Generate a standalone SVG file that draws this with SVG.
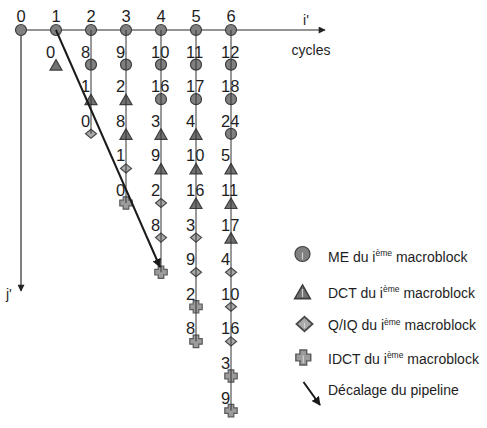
<svg xmlns="http://www.w3.org/2000/svg" width="487" height="428" viewBox="0 0 487 428">
<style>
text{font-family:"Liberation Sans",Arial,sans-serif;fill:#1e1e1e}
.num{font-size:16.5px}
.hd{font-size:16.5px;text-anchor:middle}
.lg{font-size:14px}
.sup{font-size:8.5px}
.me{fill:#808080;stroke:#3e3e3e;stroke-width:1.2}
.dct{fill:#727272;stroke:#3e3e3e;stroke-width:1.2}
.qiq{fill:#a9a9a9;stroke:#4a4a4a;stroke-width:1.2}
.idct{fill:#9c9c9c;stroke:#5a5a5a;stroke-width:1.2}
.col{stroke:#333;stroke-width:1;fill:none}
.mark{stroke:#d0d0d0;stroke-width:1.2;fill:none}
.axis{stroke:#2a2a2a;stroke-width:1.2;fill:none}
.pipe{stroke:#1a1a1a;stroke-width:2;fill:none}
</style>
<defs>
<circle id="me" r="5.5" class="me"/>
<polygon id="dct" points="0,-5 6,5.5 -6,5.5" class="dct"/>
<polygon id="qiq" points="0,-4.5 5.5,0 0,4.5 -5.5,0" class="qiq"/>
<path id="idct" d="M-2.8,-6.2h5.6v3.4h3.4v5.6h-3.4v3.4h-5.6v-3.4h-3.4v-5.6h3.4z" class="idct"/>
<marker id="ah" viewBox="0 0 10 10" refX="9" refY="5" markerWidth="8" markerHeight="7" markerUnits="userSpaceOnUse" orient="auto"><path d="M0,0L10,5L0,10z" fill="#222"/></marker>
<marker id="ah2" viewBox="0 0 10 10" refX="9" refY="5" markerWidth="4.5" markerHeight="4.5" orient="auto"><path d="M0,0L10,5L0,10z" fill="#1a1a1a"/></marker>
</defs>

<!-- axes -->
<g id="axes">
<line class="axis" x1="21" y1="30" x2="325" y2="30" marker-end="url(#ah)"/>
<line class="axis" x1="21" y1="30" x2="21" y2="291" marker-end="url(#ah)"/>
<text class="lg" x="306" y="25" text-anchor="middle">i'</text>
<text class="lg" x="311" y="55" text-anchor="middle">cycles</text>
<text class="lg" x="6" y="299">j'</text>
<text class="hd" x="21" y="21.5">0</text>
<text class="hd" x="56" y="21.5">1</text>
<text class="hd" x="91" y="21.5">2</text>
<text class="hd" x="126" y="21.5">3</text>
<text class="hd" x="161" y="21.5">4</text>
<text class="hd" x="196" y="21.5">5</text>
<text class="hd" x="231" y="21.5">6</text>
</g>

<!-- column 0 -->
<g id="c0r0"><use href="#me" x="21" y="30"/></g>
<!-- column 1 -->
<g id="c1r0"><use href="#me" x="56" y="30"/></g>
<g id="c1r1"><use href="#dct" x="56" y="64.6"/><text class="num" x="46" y="57.6">0</text></g>
<!-- column 2 -->
<g id="c2r0"><use href="#me" x="91" y="30"/></g>
<g id="c2r1"><use href="#me" x="91" y="64.6"/><text class="num" x="81" y="57.6">8</text></g>
<g id="c2r2"><use href="#dct" x="91" y="99.2"/><text class="num" x="81" y="92.2">1</text></g>
<g id="c2r3"><use href="#qiq" x="91" y="133.8"/><text class="num" x="81" y="126.8">0</text></g>
<!-- column 3 -->
<g id="c3r0"><use href="#me" x="126" y="30"/></g>
<g id="c3r1"><use href="#me" x="126" y="64.6"/><text class="num" x="116" y="57.6">9</text></g>
<g id="c3r2"><use href="#dct" x="126" y="99.2"/><text class="num" x="116" y="92.2">2</text></g>
<g id="c3r3"><use href="#dct" x="126" y="133.8"/><text class="num" x="116" y="126.8">8</text></g>
<g id="c3r4"><use href="#qiq" x="126" y="168.4"/><text class="num" x="116" y="161.4">1</text></g>
<g id="c3r5"><use href="#idct" x="126" y="203"/><text class="num" x="116" y="196">0</text></g>
<!-- column 4 -->
<g id="c4r0"><use href="#me" x="161" y="30"/></g>
<g id="c4r1"><use href="#me" x="161" y="64.6"/><text class="num" x="151" y="57.6">10</text></g>
<g id="c4r2"><use href="#me" x="161" y="99.2"/><text class="num" x="151" y="92.2">16</text></g>
<g id="c4r3"><use href="#dct" x="161" y="133.8"/><text class="num" x="151" y="126.8">3</text></g>
<g id="c4r4"><use href="#dct" x="161" y="168.4"/><text class="num" x="151" y="161.4">9</text></g>
<g id="c4r5"><use href="#qiq" x="161" y="203"/><text class="num" x="151" y="196">2</text></g>
<g id="c4r6"><use href="#qiq" x="161" y="237.6"/><text class="num" x="151" y="230.6">8</text></g>
<g id="c4r7"><use href="#idct" x="161" y="272.2"/></g>
<!-- column 5 -->
<g id="c5r0"><use href="#me" x="196" y="30"/></g>
<g id="c5r1"><use href="#me" x="196" y="64.6"/><text class="num" x="186" y="57.6">11</text></g>
<g id="c5r2"><use href="#me" x="196" y="99.2"/><text class="num" x="186" y="92.2">17</text></g>
<g id="c5r3"><use href="#dct" x="196" y="133.8"/><text class="num" x="186" y="126.8">4</text></g>
<g id="c5r4"><use href="#dct" x="196" y="168.4"/><text class="num" x="186" y="161.4">10</text></g>
<g id="c5r5"><use href="#dct" x="196" y="203"/><text class="num" x="186" y="196">16</text></g>
<g id="c5r6"><use href="#qiq" x="196" y="237.6"/><text class="num" x="186" y="230.6">3</text></g>
<g id="c5r7"><use href="#qiq" x="196" y="272.2"/><text class="num" x="186" y="265.2">9</text></g>
<g id="c5r8"><use href="#idct" x="196" y="306.8"/><text class="num" x="186" y="299.8">2</text></g>
<g id="c5r9"><use href="#idct" x="196" y="341.4"/><text class="num" x="186" y="334.4">8</text></g>
<!-- column 6 -->
<g id="c6r0"><use href="#me" x="231" y="30"/></g>
<g id="c6r1"><use href="#me" x="231" y="64.6"/><text class="num" x="221" y="57.6">12</text></g>
<g id="c6r2"><use href="#me" x="231" y="99.2"/><text class="num" x="221" y="92.2">18</text></g>
<g id="c6r3"><use href="#me" x="231" y="133.8"/><text class="num" x="221" y="126.8">24</text></g>
<g id="c6r4"><use href="#dct" x="231" y="168.4"/><text class="num" x="221" y="161.4">5</text></g>
<g id="c6r5"><use href="#dct" x="231" y="203"/><text class="num" x="221" y="196">11</text></g>
<g id="c6r6"><use href="#dct" x="231" y="237.6"/><text class="num" x="221" y="230.6">17</text></g>
<g id="c6r7"><use href="#qiq" x="231" y="272.2"/><text class="num" x="221" y="265.2">4</text></g>
<g id="c6r8"><use href="#qiq" x="231" y="306.8"/><text class="num" x="221" y="299.8">10</text></g>
<g id="c6r9"><use href="#qiq" x="231" y="341.4"/><text class="num" x="221" y="334.4">16</text></g>
<g id="c6r10"><use href="#idct" x="231" y="376"/><text class="num" x="221" y="369">3</text></g>
<g id="c6r11"><use href="#idct" x="231" y="410.6"/><text class="num" x="221" y="403.6">9</text></g>

<!-- connectors -->
<g id="connectors">
<line class="col" x1="91" y1="30" x2="91" y2="133.8"/>
<line class="col" x1="126" y1="30" x2="126" y2="203"/>
<line class="col" x1="161" y1="30" x2="161" y2="272.2"/>
<line class="col" x1="196" y1="30" x2="196" y2="341.4"/>
<line class="col" x1="231" y1="30" x2="231" y2="410.6"/>
<line class="pipe" x1="56" y1="30" x2="160" y2="267" marker-end="url(#ah2)"/>
</g>

<!-- legend -->
<g id="legend-me"><circle cx="302.5" cy="254" r="7.5" class="me"/><line class="mark" x1="302.5" y1="252.5" x2="302.5" y2="259.5"/><text class="lg" x="328" y="261.5">ME du i<tspan class="sup" dy="-5.5">ème</tspan><tspan dy="5.5"> macroblock</tspan></text></g>
<g id="legend-dct"><use href="#dct" transform="translate(302.5,291.5) scale(1.3)"/><line class="mark" x1="302.5" y1="289" x2="302.5" y2="297"/><text class="lg" x="328" y="297.5">DCT du i<tspan class="sup" dy="-5.5">ème</tspan><tspan dy="5.5"> macroblock</tspan></text></g>
<g id="legend-qiq"><use href="#qiq" transform="translate(304.5,324) scale(1.45,1.6)"/><line class="mark" x1="304.5" y1="322.5" x2="304.5" y2="328"/><text class="lg" x="328" y="330">Q/IQ du i<tspan class="sup" dy="-5.5">ème</tspan><tspan dy="5.5"> macroblock</tspan></text></g>
<g id="legend-idct"><use href="#idct" transform="translate(303.3,357.5) scale(1.2)"/><line class="mark" x1="303.3" y1="355.5" x2="303.3" y2="363"/><text class="lg" x="328" y="363.5">IDCT du i<tspan class="sup" dy="-5.5">ème</tspan><tspan dy="5.5"> macroblock</tspan></text></g>
<g id="legend-pipe"><line class="pipe" x1="303.5" y1="382" x2="320" y2="405" marker-end="url(#ah2)"/><text class="lg" x="328" y="395">Décalage du pipeline</text></g>
</svg>
